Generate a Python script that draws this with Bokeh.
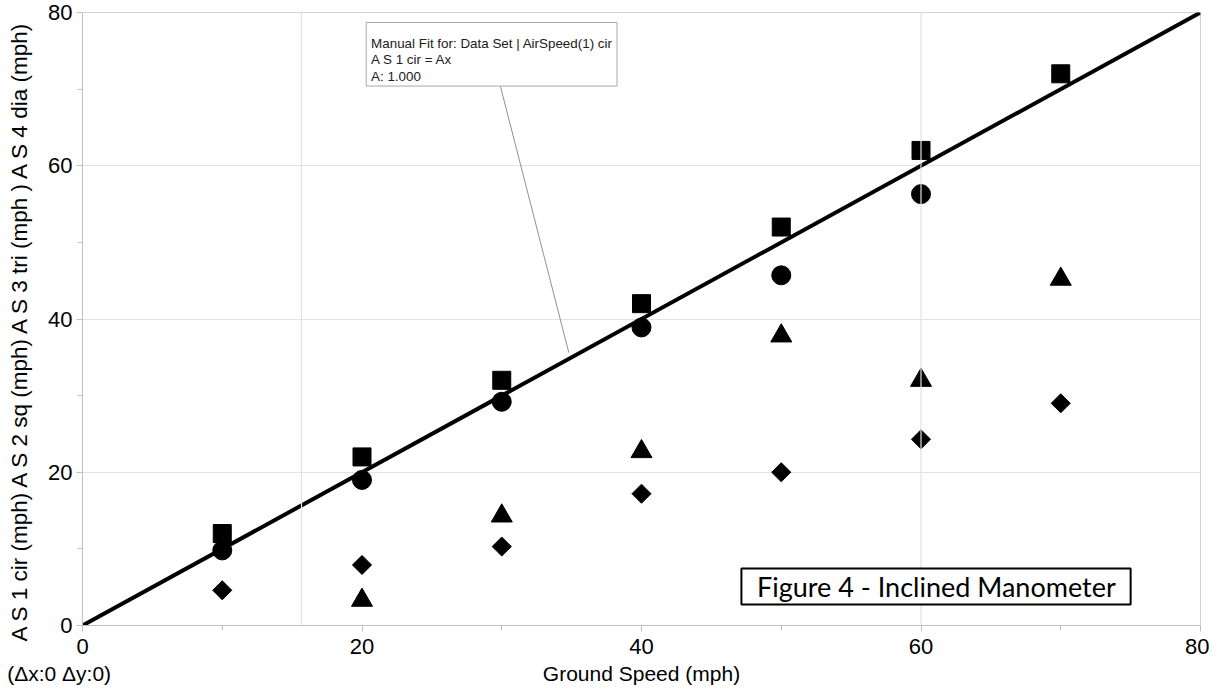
import numpy as np
from bokeh.plotting import figure
from bokeh.models import Range1d, FixedTicker, Span, BoxAnnotation, Label, LinearAxis
from bokeh.embed import file_html
from bokeh.resources import INLINE

# ---- data ----
ground_cir = [10, 20, 30, 40, 50, 60]
as1_cir = [9.8, 19.0, 29.2, 38.9, 45.7, 56.3]

ground_sq = [10, 20, 30, 40, 50, 60, 70]
as2_sq = [12, 22, 32, 42, 52, 62, 72]

ground_tri = [20, 30, 40, 50, 60, 70]
as3_tri = [3.3, 14.3, 22.7, 37.8, 32.0, 45.2]

ground_dia = [10, 20, 30, 40, 50, 60, 70]
as4_dia = [4.6, 7.9, 10.3, 17.2, 20.0, 24.3, 29.0]

fit_A = 1.000
fit_x = np.array([0.0, 80.0])
fit_y = fit_A * fit_x

x_ticks = [0, 20, 40, 60, 80]
y_ticks = [0, 20, 40, 60, 80]

FONT = "Liberation Sans"

p = figure(width=1209, height=690, output_backend="svg", toolbar_location=None,
           x_range=Range1d(0, 80), y_range=Range1d(0, 80),
           min_border_left=82, min_border_right=9, min_border_top=12, min_border_bottom=65)

p.background_fill_color = "white"
p.border_fill_color = "white"
p.outline_line_color = "#d4d4d4"

# axes
for ax in (p.xaxis[0], p.yaxis[0]):
    ax.axis_line_color = "#c0c0c0"
    ax.major_tick_line_color = "#c0c0c0"
    ax.minor_tick_line_color = "#c0c0c0"
    ax.major_tick_out = 6
    ax.major_tick_in = 0
    ax.minor_tick_out = 5
    ax.minor_tick_in = 0
    ax.major_label_text_font = FONT
    ax.major_label_text_font_size = "22px"
    ax.major_label_text_color = "black"
    ax.axis_label_text_font = FONT
    ax.axis_label_text_font_style = "normal"
    ax.axis_label_text_color = "black"

p.xaxis.ticker = FixedTicker(ticks=x_ticks, minor_ticks=[10, 30, 50, 70])
p.yaxis.ticker = FixedTicker(ticks=y_ticks, minor_ticks=[10, 30, 50, 70])
p.xaxis.major_label_standoff = 7
p.yaxis.axis_label = "A S 1 cir (mph)  A S 2 sq (mph)  A S 3 tri (mph )  A S 4 dia (mph)"
p.yaxis.axis_label_text_font_size = "22.5px"
p.yaxis.major_label_standoff = 4
p.yaxis.axis_label_standoff = 13

# second row below the x axis: delta readout and x-axis title on one line
label_axis = LinearAxis(ticker=FixedTicker(ticks=[0, 40]),
                        major_label_overrides={0: "(\u0394x:0 \u0394y:0)" + "\u00a0" * 8,
                                               40: "Ground Speed (mph)"},
                        axis_line_color=None, major_tick_line_color=None,
                        minor_tick_line_color=None, major_tick_out=0, major_tick_in=0,
                        major_label_standoff=5,
                        major_label_text_font=FONT, major_label_text_font_size="21px",
                        major_label_text_color="black")
p.add_layout(label_axis, "below")

# grid
p.xgrid.visible = False
p.ygrid.grid_line_color = "#e2e2e2"
p.ygrid.ticker = FixedTicker(ticks=[20, 40, 60])
for xv in (15.67, 60):
    p.add_layout(Span(location=xv, dimension="height", line_color="#e2e2e2", line_width=1.2))

# fit line
p.line(fit_x, fit_y, line_color="black", line_width=4)

# callout leader line
p.line([29.9, 34.8], [70.4, 35.6], line_color="#909090", line_width=1)

# data markers
p.scatter(ground_sq, as2_sq, marker="square", size=18, fill_color="black", line_color="black")
p.scatter(ground_cir, as1_cir, marker="circle", size=19, fill_color="black", line_color="black")
p.scatter(ground_tri, as3_tri, marker="triangle", size=21, fill_color="black", line_color="black")
p.scatter(ground_dia, as4_dia, marker="square", angle=np.pi / 4, size=13.5,
          fill_color="black", line_color="black")

# fit annotation box
p.add_layout(BoxAnnotation(left=20.3, right=38.25, bottom=70.4, top=78.7,
                           fill_color="white", fill_alpha=1.0,
                           line_color="#a8a8a8", line_alpha=1.0, line_width=1))
p.scatter([20.95], [77.75], marker="square_x", size=11, fill_color="#a8a8a8",
          line_color="#808080", line_width=1)
p.scatter([21.75], [77.75], marker="square", size=11, fill_color="#a8a8a8",
          line_color="#808080", line_width=1)
p.add_layout(Label(x=20.65, y=76.9, text="Manual Fit for: Data Set | AirSpeed(1) cir\nA S 1 cir = Ax\nA: 1.000",
                   text_font=FONT, text_font_size="13.4px", text_color="#202020",
                   text_baseline="top", text_align="left", text_line_height=1.08))

# figure caption box
p.add_layout(BoxAnnotation(left=47.15, right=75.0, bottom=2.74, top=7.44,
                           fill_color="white", fill_alpha=1.0,
                           line_color="black", line_alpha=1.0, line_width=2))
p.add_layout(Label(x=61.1, y=5.1, text="Figure 4 - Inclined Manometer",
                   text_font="Lato", text_font_size="27px", text_color="black",
                   text_baseline="middle", text_align="center"))

open("out.html", "w").write(file_html(p, INLINE))
